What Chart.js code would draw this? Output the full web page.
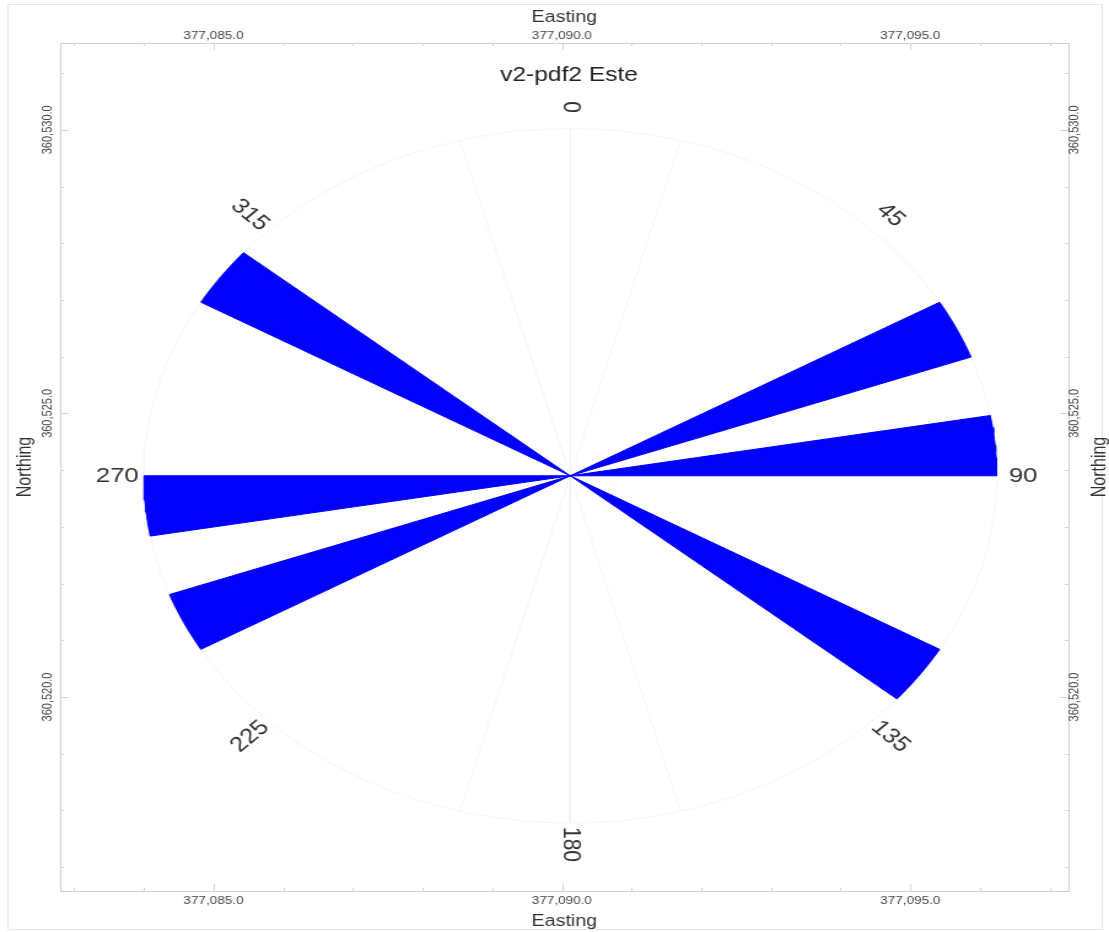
<!DOCTYPE html>
<html>
<head>
<meta charset="utf-8">
<title>v2-pdf2 Este</title>
<script src="https://cdn.jsdelivr.net/npm/chart.js@4.4.1/dist/chart.umd.min.js"></script>
<style>
    html, body { margin: 0; padding: 0; background: #fff; }
    /* the source image is stretched sideways, so the canvas is too */
    #roseChart { display: block; width: 1109px !important; height: 932px !important; }
</style>
</head>
<body>
<canvas id="roseChart" width="903" height="932"></canvas>
<script>
// Rose diagram: 10 degree bins, bidirectional counts
const binStarts = [0, 10, 20, 30, 40, 50, 60, 70, 80, 90, 100, 110,
                   120, 130, 140, 150, 160, 170, 180, 190, 200, 210, 220, 230,
                   240, 250, 260, 270, 280, 290, 300, 310, 320, 330, 340, 350];
const binCounts = [0, 0, 0, 0, 0, 0, 1, 0, 1, 0, 0, 0,
                   1, 0, 0, 0, 0, 0, 0, 0, 0, 0, 0, 0,
                   1, 0, 1, 0, 0, 0, 1, 0, 0, 0, 0, 0];
const binWidth = 10;

// Direction labels round the rose
const directionLabels = ['0', '45', '90', '135', '180', '225', '270', '315'];
const directionAngles = [0, 45, 90, 135, 180, 225, 270, 315];
const labelRotations = [90, 45, 0, 45, 90, -45, 0, 45];

// Faint spokes seen in the picture
const spokeAngles = [0, 15, 165, 180, 195, 345];

// Map frame (Easting / Northing)
const roseCentre = [377090.12, 360523.90];
const eastingRange = [377082.80, 377097.27];
const northingRange = [360516.58, 360531.53];
const eastingLabelValues = [377085, 377090, 377095];
const northingLabelValues = [360520, 360525, 360530];

const ringRadius = 6.12;   // map units for the largest bin
const labelRadius = 6.5;

const fmtCoord = v => v.toLocaleString('en-US', { minimumFractionDigits: 1, maximumFractionDigits: 1 });

function polarPoint(angleDeg, r) {
    const a = angleDeg * Math.PI / 180;
    return { x: roseCentre[0] + r * Math.sin(a), y: roseCentre[1] + r * Math.cos(a) };
}

function wedgePoints(start, end, r) {
    const pts = [{ x: roseCentre[0], y: roseCentre[1] }];
    for (let a = start; a <= end; a += 1) pts.push(polarPoint(a, r));
    pts.push({ x: roseCentre[0], y: roseCentre[1] });
    return pts;
}

// Build datasets
const maxCount = Math.max(...binCounts);
const datasets = [];

binCounts.forEach((count, i) => {
    if (!count) return;
    datasets.push({
        data: wedgePoints(binStarts[i], binStarts[i] + binWidth, count / maxCount * ringRadius),
        showLine: true,
        fill: 'shape',
        backgroundColor: '#0000ff',
        borderColor: '#0000ff',
        borderWidth: 1,
        pointRadius: 0,
        tension: 0,
        order: 0
    });
});

const ringPts = [];
for (let a = 0; a <= 360; a += 2) ringPts.push(polarPoint(a, ringRadius));
datasets.push({
    data: ringPts, showLine: true, fill: false, borderColor: '#f6f6f6',
    borderWidth: 1, pointRadius: 0, order: 5
});
spokeAngles.forEach(a => {
    datasets.push({
        data: [{ x: roseCentre[0], y: roseCentre[1] }, polarPoint(a, ringRadius)],
        showLine: true, fill: false, borderColor: a % 180 === 0 ? '#f0f0f0' : '#f6f6f6',
        borderWidth: 1, pointRadius: 0, order: 5
    });
});

// Extra drawing: outer border, inner ticks, titles, direction labels
const roseDecor = {
    id: 'roseDecor',
    beforeDraw(chart) {
        const ctx = chart.ctx;
        ctx.save();
        ctx.fillStyle = '#fff';
        ctx.fillRect(0, 0, chart.width, chart.height);
        ctx.strokeStyle = '#e6e6e6';
        ctx.lineWidth = 1;
        ctx.strokeRect(6.5, 4.5, 891, 925);
        ctx.restore();
    },
    afterDraw(chart) {
        const ctx = chart.ctx;
        const xs = chart.scales.x;
        const ys = chart.scales.y;
        const area = chart.chartArea;
        ctx.save();

        // inward tick marks on the frame
        ctx.strokeStyle = '#d6d6d6';
        ctx.lineWidth = 1;
        xs.ticks.forEach(t => {
            const px = Math.round(xs.getPixelForValue(t.value)) + 0.5;
            const len = t.value % 5 === 0 ? 7 : 3;
            ctx.beginPath();
            ctx.moveTo(px, area.top); ctx.lineTo(px, area.top + len);
            ctx.moveTo(px, area.bottom); ctx.lineTo(px, area.bottom - len);
            ctx.stroke();
        });
        ys.ticks.forEach(t => {
            const py = Math.round(ys.getPixelForValue(t.value)) + 0.5;
            const len = t.value % 5 === 0 ? 7 : 3;
            ctx.beginPath();
            ctx.moveTo(area.left, py); ctx.lineTo(area.left + len, py);
            ctx.moveTo(area.right, py); ctx.lineTo(area.right - len, py);
            ctx.stroke();
        });

        // northing tick labels and titles (read bottom to top on both sides)
        ctx.fillStyle = '#444';
        ctx.textAlign = 'center';
        ctx.textBaseline = 'middle';
        ctx.font = '11px "Liberation Sans", Arial, sans-serif';
        northingLabelValues.forEach(v => {
            const py = ys.getPixelForValue(v);
            [39, 875].forEach(px => {
                ctx.save();
                ctx.translate(px, py);
                ctx.rotate(-Math.PI / 2);
                ctx.fillText(fmtCoord(v), 0, 0);
                ctx.restore();
            });
        });
        ctx.fillStyle = '#333';
        ctx.font = '16px "Liberation Sans", Arial, sans-serif';
        const midY = (area.top + area.bottom) / 2;
        [20.5, 895.5].forEach(px => {
            ctx.save();
            ctx.translate(px, midY);
            ctx.rotate(-Math.PI / 2);
            ctx.fillText('Northing', 0, 0);
            ctx.restore();
        });

        // chart title
        ctx.fillStyle = '#222';
        ctx.font = '20px "Liberation Sans", Arial, sans-serif';
        ctx.fillText('v2-pdf2 Este', xs.getPixelForValue(roseCentre[0]) - 1, area.top + 32);

        // direction labels
        ctx.fillStyle = '#333';
        ctx.font = '21px "Liberation Sans", Arial, sans-serif';
        directionLabels.forEach((lab, i) => {
            const p = polarPoint(directionAngles[i], labelRadius);
            ctx.save();
            ctx.translate(xs.getPixelForValue(p.x), ys.getPixelForValue(p.y));
            ctx.rotate(labelRotations[i] * Math.PI / 180);
            ctx.fillText(lab, 0, 0);
            ctx.restore();
        });

        ctx.restore();
    }
};

function eastingAxis(position, size, tickPad, titlePad) {
    return {
        type: 'linear',
        position: position,
        min: eastingRange[0],
        max: eastingRange[1],
        ticks: {
            stepSize: 1,
            autoSkip: false,
            includeBounds: false,
            maxRotation: 0,
            padding: tickPad,
            color: '#444',
            font: { size: 11, family: '"Liberation Sans", Arial, sans-serif' },
            callback: v => eastingLabelValues.includes(v) ? fmtCoord(v) : ''
        },
        grid: { drawOnChartArea: false, drawTicks: false },
        border: { display: true, color: '#d0d0d0' },
        title: {
            display: true,
            text: 'Easting',
            color: '#333',
            font: { size: 16, family: '"Liberation Sans", Arial, sans-serif' },
            padding: titlePad
        },
        afterFit: s => { s.height = size; }
    };
}

function northingAxis(position, size) {
    return {
        type: 'linear',
        position: position,
        min: northingRange[0],
        max: northingRange[1],
        ticks: { stepSize: 1, includeBounds: false, display: false },
        grid: { drawOnChartArea: false, drawTicks: false },
        border: { display: true, color: '#d0d0d0' },
        afterFit: s => { s.width = size; }
    };
}

new Chart(document.getElementById('roseChart').getContext('2d'), {
    type: 'scatter',
    data: { datasets: datasets },
    options: {
        responsive: false,
        animation: false,
        devicePixelRatio: 1,
        layout: { padding: 0 },
        plugins: {
            legend: { display: false },
            tooltip: { enabled: false },
            title: { display: false }
        },
        scales: {
            x: eastingAxis('bottom', 41, 3, { top: 0, bottom: 1 }),
            x2: eastingAxis('top', 43, 0, { top: 8, bottom: 0 }),
            y: northingAxis('left', 49),
            y2: northingAxis('right', 33)
        }
    },
    plugins: [roseDecor]
});
</script>
</body>
</html>
